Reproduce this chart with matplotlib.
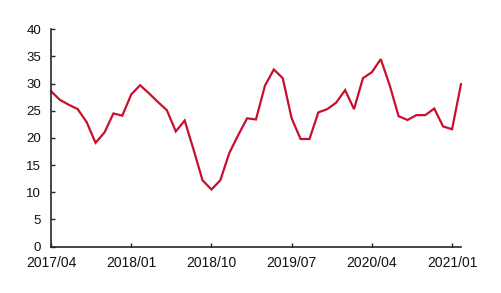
import matplotlib
matplotlib.use("Agg")
import matplotlib.pyplot as plt

months = ["2017/04", "2017/05", "2017/06", "2017/07", "2017/08", "2017/09", "2017/10", "2017/11",
          "2017/12", "2018/01", "2018/02", "2018/03", "2018/04", "2018/05", "2018/06", "2018/07",
          "2018/08", "2018/09", "2018/10", "2018/11", "2018/12", "2019/01", "2019/02", "2019/03",
          "2019/04", "2019/05", "2019/06", "2019/07", "2019/08", "2019/09", "2019/10", "2019/11",
          "2019/12", "2020/01", "2020/02", "2020/03", "2020/04", "2020/05", "2020/06", "2020/07",
          "2020/08", "2020/09", "2020/10", "2020/11", "2020/12", "2021/01", "2021/02"]
values = [28.6, 27.0, 26.1, 25.3, 22.9, 19.1, 21.0, 24.5, 24.1, 28.0, 29.7, 28.2, 26.6, 25.1,
          21.2, 23.2, 17.8, 12.2, 10.5, 12.2, 17.2, 20.5, 23.6, 23.4, 29.6, 32.6, 31.0, 23.6,
          19.8, 19.8, 24.7, 25.3, 26.5, 28.8, 25.3, 31.0, 32.1, 34.5, 29.7, 24.0, 23.3, 24.2,
          24.2, 25.4, 22.1, 21.6, 29.9]
tick_labels = ["2017/04", "2018/01", "2018/10", "2019/07", "2020/04", "2021/01"]
y_ticks = [0, 5, 10, 15, 20, 25, 30, 35, 40]

fig = plt.figure(figsize=(5.02, 2.93), dpi=100)
ax = fig.add_axes([0.1016, 0.1587, 0.8167, 0.7413])
x = list(range(len(values)))
ax.plot(x, values, color="#C8102E", lw=1.6, solid_joinstyle="miter", clip_on=False)
ax.set_xlim(0, len(values) - 1)
ax.set_ylim(0, 40)
ax.set_yticks(y_ticks)
ax.set_xticks([months.index(t) for t in tick_labels])
ax.set_xticklabels(tick_labels)
for s in ["top", "right"]:
    ax.spines[s].set_visible(False)
for s in ["left", "bottom"]:
    ax.spines[s].set_linewidth(1.2)
    ax.spines[s].set_color("#262626")
ax.tick_params(axis="both", direction="in", length=3, width=1, color="#262626")
ax.tick_params(axis="y", labelsize=9.5, pad=7)
ax.tick_params(axis="x", labelsize=10, pad=7)
for lab in ax.get_xticklabels() + ax.get_yticklabels():
    lab.set_fontfamily("Liberation Sans")
    lab.set_color("#111111")
fig.savefig("out.png", dpi=100)
